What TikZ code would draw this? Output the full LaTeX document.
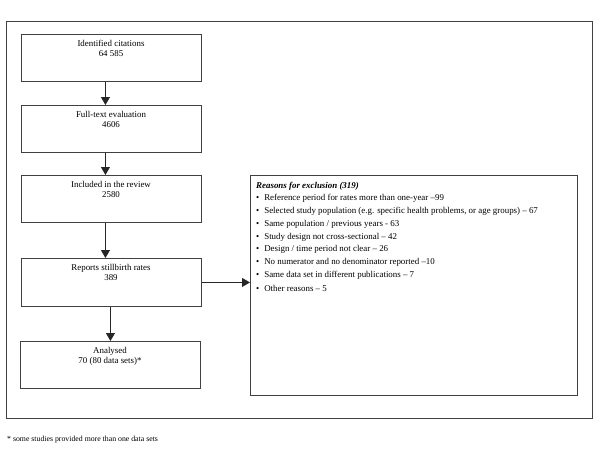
\documentclass[tikz,border=0pt]{standalone}
\usepackage{fontspec}
\setmainfont{Liberation Serif}
\usetikzlibrary{arrows.meta}
\begin{document}
\begin{tikzpicture}[x=1pt,y=-1pt,
  box/.style={draw=black!75,line width=0.9pt},
  stage/.style={box,minimum width=180pt,minimum height=47pt,anchor=north west,inner sep=0pt},
  arr/.style={draw=black!85,line width=0.9pt,-{Triangle[length=8pt,width=9pt]}},
  lbl/.style={font=\fontsize{8.9}{10.2}\selectfont,align=center,anchor=north,inner sep=0pt},
  item/.style={font=\fontsize{8.9}{10}\selectfont,anchor=west,inner sep=0pt},
]
\useasboundingbox (0,0) rectangle (600,467);
\draw[box] (6,21) rectangle (592,418);
\node[stage] (b1) at (21,34) {};
\node[stage] (b2) at (21,105) {};
\node[stage] (b3) at (21,175) {};
\node[stage,minimum height=48pt] (b4) at (21,258) {};
\node[stage] (b5) at (20,341) {};
\node[box,minimum width=327pt,minimum height=220pt,anchor=north west,inner sep=0pt] (r) at (250,175) {};
\node[lbl] (t1) at (111,40) {Identified citations\\64 585};
\node[lbl] (t2) at (111,111) {Full-text evaluation\\4606};
\node[lbl] (t3) at (111,181) {Included in the review\\2580};
\node[lbl] (t4) at (111,264) {Reports stillbirth rates\\389};
\node[lbl] (t5) at (110,347) {Analysed\\70 (80 data sets)*};
\node[item] (h) at (256,186) {\textbf{\textit{Reasons for exclusion (319)}}};
\foreach \t [count=\i] in {Reference period for rates more than one-year –99,
  {Selected study population (e.g. specific health problems, or age groups) – 67},
  Same population / previous years - 63,
  Study design not cross-sectional – 42,
  Design / time period not clear – 26,
  No numerator and no denominator reported –10,
  Same data set in different publications – 7,
  Other reasons – 5}{
  \node[item] (i\i) at (256,{186+12.75*\i}) {\textbullet\hspace{5pt}\t};
}
\node[font=\fontsize{7.8}{9}\selectfont,anchor=west,inner sep=0pt] (fn) at (7,440) {* some studies provided more than one data sets};
\draw[arr] ([xshift=-6pt]b1.south) -- ([xshift=-6pt]b2.north);
\draw[arr] ([xshift=-6pt]b2.south) -- ([xshift=-6pt]b3.north);
\draw[arr] ([xshift=-6pt]b3.south) -- ([xshift=-6pt]b4.north);
\draw[arr] (b5.north |- b4.south) -- (b5.north);
\draw[arr] (b4.east) -- (r.west |- b4.east);
\end{tikzpicture}
\end{document}
